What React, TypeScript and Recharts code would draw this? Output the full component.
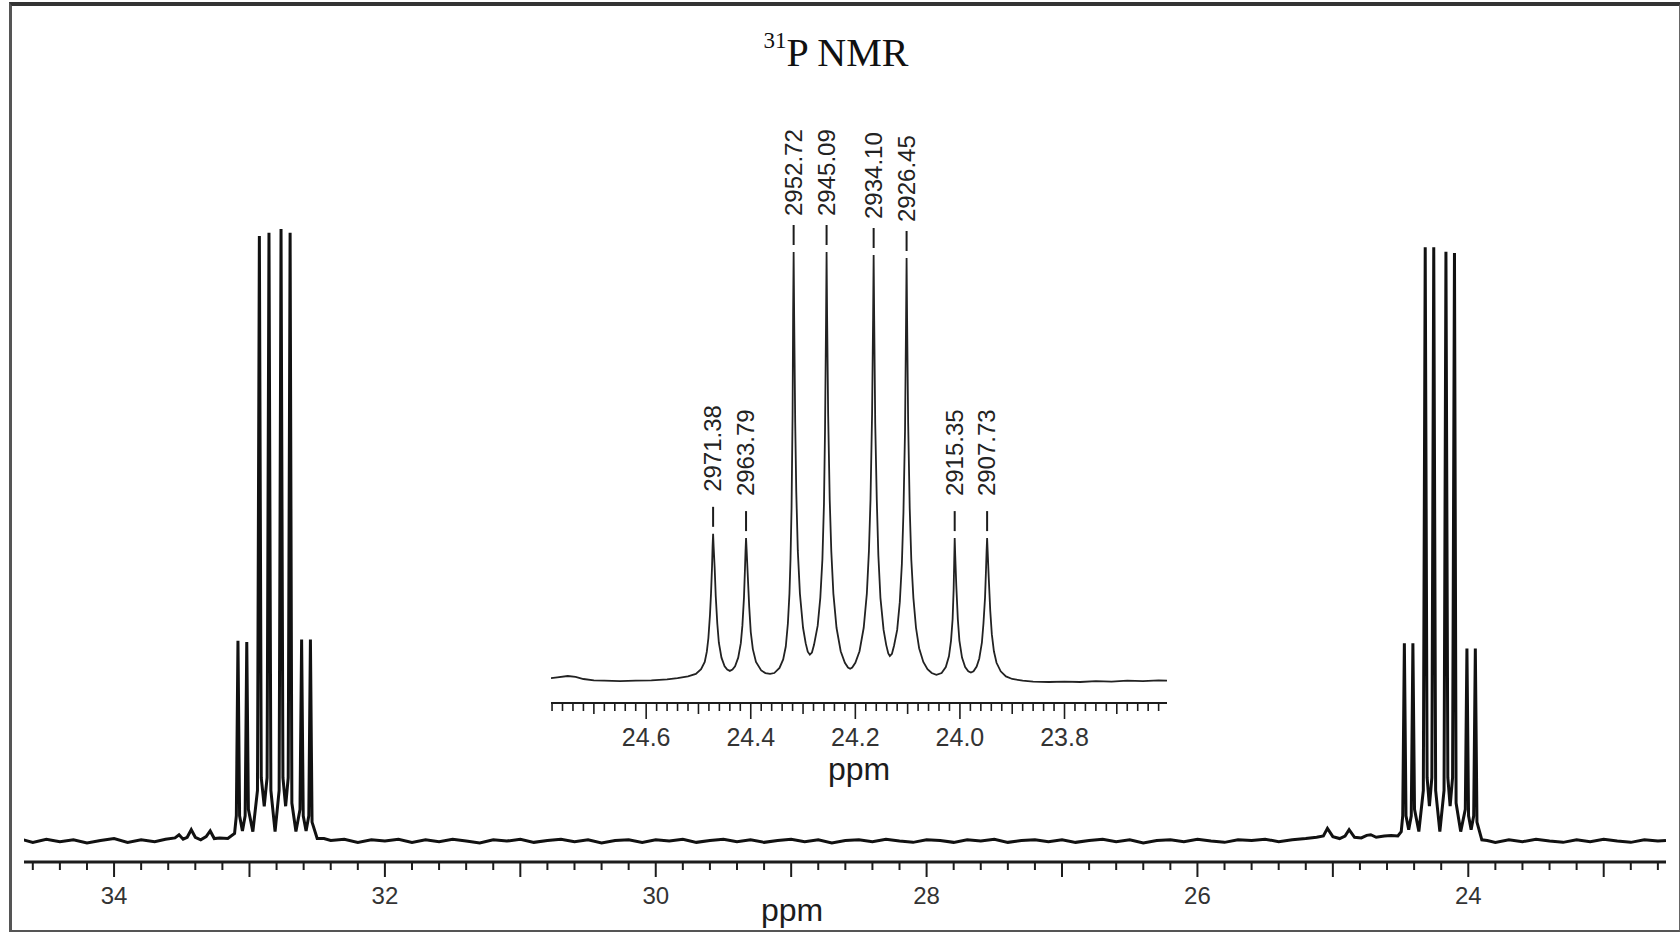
import React from "react";
import { ComposedChart, LineChart, Line, Scatter, XAxis, YAxis, Label } from "recharts";

// main 31P spectrum, [ppm, intensity]
const baseLeft: [number, number][] = [
  [34.668, 0.2], [34.6, -0.2], [34.5, 0.3], [34.4, -0.1], [34.3, 0.2], [34.2, -0.3], [34.1, 0.1],
  [34.0, 0.4], [33.9, -0.2], [33.8, 0.2], [33.7, -0.1], [33.62, 0.3], [33.55, 0.5], [33.52, 1.0],
  [33.49, 0.3], [33.46, 0.6], [33.43, 1.8], [33.4, 0.6], [33.36, 0.2], [33.32, 0.7], [33.29, 1.6],
  [33.26, 0.4], [33.22, 0.5],
];

const multipletLeft: [number, number][] = [
  [33.16, 0.4], [33.11, 1.2], [33.097, 4], [33.085, 31.6], [33.073, 4], [33.052, 1.6], [33.032, 4],
  [33.02, 31.4], [33.008, 5], [32.975, 1.5], [32.941, 8], [32.927, 95.5], [32.913, 10], [32.891, 5.5],
  [32.87, 10], [32.856, 96.0], [32.842, 8], [32.811, 1.5], [32.781, 8], [32.767, 96.6], [32.753, 10],
  [32.733, 5.5], [32.714, 10], [32.7, 96.0], [32.687, 6], [32.657, 1.5], [32.627, 5], [32.615, 31.8],
  [32.603, 4], [32.582, 1.6], [32.562, 4], [32.55, 31.8], [32.538, 3], [32.5, 0.4],
];

const baseMiddle: [number, number][] = [
  [32.45, 0.4], [32.4, 0.1], [32.3, 0.3], [32.2, -0.2], [32.1, 0.2], [32.0, 0.0], [31.9, 0.3],
  [31.8, -0.2], [31.7, 0.2], [31.6, -0.1], [31.5, 0.3], [31.4, 0.0], [31.3, -0.3], [31.2, 0.2],
  [31.1, 0.0], [31.0, 0.3], [30.9, -0.2], [30.8, 0.1], [30.7, 0.3], [30.6, -0.1], [30.5, 0.2],
  [30.4, -0.3], [30.3, 0.1], [30.2, 0.2], [30.1, -0.2], [30.0, 0.2], [29.9, 0.0], [29.8, 0.3],
  [29.7, -0.2], [29.6, 0.1], [29.5, 0.3], [29.4, -0.1], [29.3, 0.2], [29.2, -0.2], [29.1, 0.1],
  [29.0, 0.3], [28.9, -0.1], [28.8, 0.2], [28.7, -0.3], [28.6, 0.1], [28.5, 0.2], [28.4, -0.1],
  [28.3, 0.3], [28.2, 0.0], [28.1, -0.2], [28.0, 0.2], [27.9, 0.1], [27.8, -0.2], [27.7, 0.2],
  [27.6, 0.0], [27.5, 0.3], [27.4, -0.2], [27.3, 0.1], [27.2, 0.2], [27.1, -0.1], [27.0, 0.2],
  [26.9, -0.2], [26.8, 0.1], [26.7, 0.3], [26.6, -0.1], [26.5, 0.2], [26.4, -0.3], [26.3, 0.1],
  [26.2, 0.2], [26.1, -0.1], [26.0, 0.3], [25.9, 0.0], [25.8, -0.2], [25.7, 0.2], [25.6, 0.1],
  [25.5, 0.3], [25.4, -0.1], [25.3, 0.2], [25.2, 0.4], [25.12, 0.6], [25.07, 0.8], [25.04, 2.0],
  [25.0, 0.7], [24.95, 0.4], [24.91, 0.8], [24.88, 1.8], [24.84, 0.6], [24.79, 0.5], [24.75, 0.9],
  [24.72, 1.0], [24.68, 0.6], [24.62, 0.8], [24.57, 0.9],
];

const multipletRight: [number, number][] = [
  [24.52, 0.8], [24.495, 1.5], [24.484, 4], [24.472, 31.2], [24.46, 4], [24.44, 1.8], [24.421, 4],
  [24.409, 31.2], [24.397, 5], [24.365, 1.5], [24.332, 8], [24.318, 93.7], [24.304, 10], [24.287, 5.5],
  [24.269, 10], [24.255, 93.7], [24.241, 8], [24.21, 1.5], [24.179, 8], [24.165, 93.0], [24.151, 10],
  [24.134, 5.5], [24.116, 10], [24.102, 92.8], [24.09, 6], [24.056, 1.5], [24.022, 5], [24.01, 30.4],
  [23.998, 4], [23.979, 1.8], [23.96, 4], [23.948, 30.4], [23.936, 3], [23.9, 0.2],
];

const baseRight: [number, number][] = [
  [23.86, 0.1], [23.8, -0.2], [23.7, 0.2], [23.6, -0.1], [23.5, 0.3], [23.4, 0.0], [23.3, -0.2],
  [23.2, 0.2], [23.1, -0.1], [23.0, 0.3], [22.9, 0.0], [22.8, -0.2], [22.7, 0.2], [22.6, 0.0],
  [22.54, 0.1],
];

const mainLabels = [34, 32, 30, 28, 26, 24];

// inset: the 24 ppm multiplet expanded
const insetCurve: [number, number][] = [
  [24.782, 0.2], [24.77, 0.4], [24.75, 0.7], [24.735, 0.5], [24.72, 0.0], [24.7, -0.3], [24.68, -0.4],
  [24.65, -0.5], [24.62, -0.4], [24.59, -0.3], [24.56, -0.1], [24.54, 0.2], [24.52, 0.6], [24.505, 1.2],
  [24.495, 2.3], [24.488, 4.0], [24.484, 6.4], [24.481, 9.6], [24.478, 15], [24.476, 20], [24.474, 26.5],
  [24.473, 31], [24.472, 34], [24.471, 31], [24.469, 26], [24.467, 19.5], [24.464, 13], [24.461, 8.5],
  [24.456, 5.0], [24.45, 3.0], [24.445, 2.2], [24.44, 1.9], [24.435, 2.2], [24.43, 3.0], [24.424, 5.0],
  [24.419, 8.4], [24.416, 12.5], [24.413, 19], [24.411, 26], [24.41, 30], [24.409, 33], [24.408, 30.5],
  [24.406, 25], [24.403, 17], [24.4, 11], [24.396, 7], [24.39, 4], [24.38, 2.0], [24.372, 1.4],
  [24.363, 1.2], [24.355, 1.4], [24.345, 2.6], [24.338, 4.6], [24.333, 7.6], [24.329, 13], [24.326, 20],
  [24.324, 28], [24.322, 40], [24.32, 62], [24.319, 85], [24.318, 100], [24.317, 85], [24.315, 60],
  [24.313, 44], [24.31, 30], [24.306, 20], [24.3, 12], [24.295, 8.4], [24.291, 6.4], [24.287, 5.7],
  [24.283, 6.2], [24.279, 8.0], [24.272, 12.5], [24.267, 19], [24.263, 28], [24.26, 41], [24.258, 58],
  [24.256, 84], [24.255, 100], [24.254, 85], [24.252, 62], [24.249, 42], [24.246, 30], [24.242, 20],
  [24.236, 12], [24.228, 6.5], [24.22, 3.8], [24.214, 2.7], [24.21, 2.4], [24.206, 2.7], [24.2, 3.8],
  [24.192, 6.5], [24.184, 12], [24.178, 20], [24.174, 30], [24.171, 42], [24.168, 62], [24.166, 85],
  [24.165, 99.3], [24.164, 85], [24.162, 60], [24.159, 42], [24.156, 29], [24.152, 19], [24.146, 11.5],
  [24.141, 8.0], [24.137, 6.0], [24.134, 5.4], [24.13, 5.9], [24.126, 7.8], [24.12, 11.5], [24.115, 18],
  [24.111, 27], [24.108, 39], [24.105, 58], [24.103, 84], [24.102, 98.6], [24.101, 84], [24.099, 60],
  [24.096, 40], [24.093, 28], [24.089, 19], [24.084, 12], [24.078, 7.2], [24.07, 4.0], [24.062, 2.3],
  [24.054, 1.4], [24.045, 1.0], [24.035, 1.4], [24.027, 2.8], [24.021, 5.3], [24.017, 9], [24.014, 14],
  [24.012, 21], [24.011, 27], [24.01, 33], [24.009, 29], [24.007, 22], [24.004, 14], [24.001, 9],
  [23.996, 5], [23.99, 2.8], [23.984, 1.8], [23.979, 1.5], [23.974, 1.8], [23.968, 2.9], [23.963, 4.8],
  [23.958, 8.5], [23.955, 13], [23.952, 19], [23.95, 26], [23.949, 30], [23.948, 33], [23.947, 30],
  [23.945, 24], [23.942, 16], [23.939, 10.5], [23.935, 6.5], [23.93, 3.8], [23.922, 1.8], [23.912, 0.6],
  [23.9, 0.0], [23.88, -0.4], [23.86, -0.6], [23.83, -0.7], [23.8, -0.6], [23.77, -0.7], [23.74, -0.5],
  [23.71, -0.6], [23.68, -0.4], [23.65, -0.5], [23.62, -0.3], [23.604, -0.4],
];

const insetPeakPpm = [24.472, 24.409, 24.318, 24.255, 24.165, 24.102, 24.01, 23.948];
const insetPeakTop = [34, 33, 100, 100, 99.3, 98.6, 33, 33];
const insetPeakHz = ["2971.38", "2963.79", "2952.72", "2945.09", "2934.10", "2926.45", "2915.35", "2907.73"];
const insetLabels = [24.6, 24.4, 24.2, 24.0, 23.8];

const toRows = (pts: [number, number][]) => pts.map(([ppm, i]) => ({ ppm, i }));

const mainData = toRows([...baseLeft, ...multipletLeft, ...baseMiddle, ...multipletRight, ...baseRight]);
const insetData = toRows(insetCurve);
const peakMarks = insetPeakPpm.map((ppm, k) => ({ ppm, top: insetPeakTop[k], hz: insetPeakHz[k] }));

const mainTicks: number[] = [];
for (let k = 226; k <= 346; k += 2) mainTicks.push(k / 10);
const insetTicks: number[] = [];
for (let k = 2362; k <= 2478; k += 2) insetTicks.push(k / 100);

const SANS = "Liberation Sans, Arial, Helvetica, sans-serif";
const INK = "#1c1c1c";

function MainTick({ x, y, payload }: any) {
  const v = payload.value;
  const whole = Math.abs(v - Math.round(v)) < 1e-6;
  const labelled = whole && mainLabels.includes(Math.round(v));
  return (
    <g>
      <line x1={x} x2={x} y1={y} y2={y + (whole ? 15 : 8)} stroke={INK} strokeWidth={2} />
      {labelled && (
        <text x={x} y={y + 42} textAnchor="middle" fontSize={24} fill="#333" fontFamily={SANS}>
          {Math.round(v)}
        </text>
      )}
    </g>
  );
}

function InsetTick({ x, y, payload }: any) {
  const k = Math.round(payload.value * 100);
  const labelled = insetLabels.some((l) => Math.round(l * 100) === k);
  const len = k % 20 === 0 ? 16 : k % 10 === 0 ? 11 : 8;
  return (
    <g>
      <line x1={x} x2={x} y1={y} y2={y + len} stroke={INK} strokeWidth={1.6} />
      {labelled && (
        <text x={x} y={y + 43} textAnchor="middle" fontSize={25} fill="#333" fontFamily={SANS}>
          {(k / 100).toFixed(1)}
        </text>
      )}
    </g>
  );
}

function PeakMark({ cx, cy, payload }: any) {
  const small = payload.top < 50;
  return (
    <g>
      <line x1={cx} x2={cx} y1={cy - 27} y2={cy - 7} stroke={INK} strokeWidth={2} />
      <text
        transform={`translate(${cx + 8}, ${cy - (small ? 42 : 36)}) rotate(-90)`}
        fontSize={24}
        fill="#222"
        fontFamily={SANS}
      >
        {payload.hz}
      </text>
    </g>
  );
}

const axisTitle = (dx: number, dy: number) => ({ viewBox }: any) => (
  <text x={viewBox.x + viewBox.width / 2 + dx} y={viewBox.y + dy} textAnchor="middle" fontSize={32} fill={INK} fontFamily={SANS}>
    ppm
  </text>
);

export default function App() {
  return (
    <div style={{ position: "absolute", left: 0, top: 0, width: 1680, height: 932, background: "#fff", overflow: "hidden" }}>
      <div style={{ position: "absolute", left: 0, top: 0 }}>
        <LineChart width={1680} height={932} data={mainData} margin={{ top: 30, right: 14, bottom: 0, left: 24 }}>
          <XAxis
            dataKey="ppm"
            type="number"
            domain={[22.54, 34.665]}
            reversed
            allowDataOverflow
            ticks={mainTicks}
            interval={0}
            tick={<MainTick />}
            tickLine={false}
            tickSize={0}
            tickMargin={0}
            height={70}
            axisLine={{ stroke: INK, strokeWidth: 3 }}
          >
            <Label content={axisTitle(-53, 59)} />
          </XAxis>
          <YAxis hide type="number" domain={[-3.3, 128]} allowDataOverflow />
          <Line dataKey="i" type="linear" stroke="#111" strokeWidth={3} dot={false} activeDot={false} isAnimationActive={false} />
        </LineChart>
      </div>

      <div style={{ position: "absolute", left: 540, top: 80 }}>
        <ComposedChart width={640} height={720} margin={{ top: 20, right: 13, bottom: 0, left: 11 }}>
          <XAxis
            dataKey="ppm"
            type="number"
            domain={[23.604, 24.782]}
            reversed
            allowDataOverflow
            ticks={insetTicks}
            interval={0}
            tick={<InsetTick />}
            tickLine={false}
            tickSize={0}
            tickMargin={0}
            height={97}
            axisLine={{ stroke: INK, strokeWidth: 2 }}
          >
            <Label content={axisTitle(0, 77)} />
          </XAxis>
          <YAxis hide type="number" domain={[-5.62, 135.6]} allowDataOverflow />
          <Line data={insetData} dataKey="i" type="linear" stroke="#222" strokeWidth={1.8} dot={false} activeDot={false} isAnimationActive={false} />
          <Scatter data={peakMarks} dataKey="top" shape={<PeakMark />} isAnimationActive={false} />
        </ComposedChart>
      </div>

      <svg width={1680} height={120} style={{ position: "absolute", left: 0, top: 0 }}>
        <text x={836} y={66} textAnchor="middle" fontFamily="Liberation Serif, Times New Roman, serif" fontSize={40} fill="#111">
          <tspan fontSize={23} dy={-18}>31</tspan>
          <tspan dy={18}>P NMR</tspan>
        </text>
      </svg>

      <div
        style={{
          position: "absolute",
          left: 9,
          top: 2,
          width: 1667,
          height: 924,
          borderTop: "4px solid #333",
          borderLeft: "3px solid #555",
          borderRight: "2px solid #666",
          borderBottom: "4px solid #555",
          pointerEvents: "none",
        }}
      />
    </div>
  );
}
